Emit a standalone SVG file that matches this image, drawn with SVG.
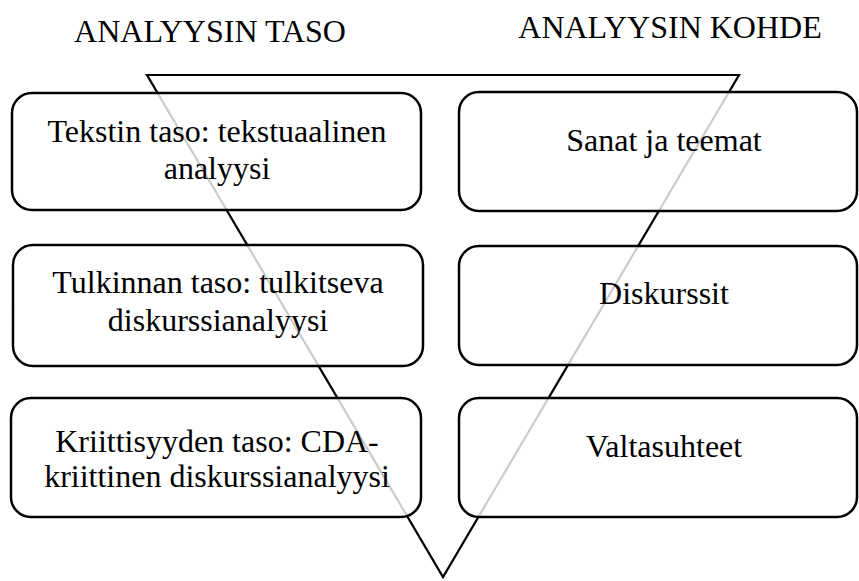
<svg xmlns="http://www.w3.org/2000/svg" width="859" height="581" viewBox="0 0 859 581">
<style>
  text { font-family: 'Liberation Serif', 'Times New Roman', Times, 'DejaVu Serif', serif; font-size: 32px; fill: #000; text-anchor: middle; }
  .box { fill: #ffffff; fill-opacity: 0.8; stroke: #000; stroke-width: 2.5; }
  .tri { fill: none; stroke: #000; stroke-width: 2.2; stroke-linejoin: miter; }
</style>
<rect width="859" height="581" fill="#ffffff"/>
<g id="headers" font-family="Liberation Serif, serif">
  <text x="210" y="42">ANALYYSIN TASO</text>
  <text x="670" y="38">ANALYYSIN KOHDE</text>
</g>
<g id="connectors">
  <polygon class="tri" points="147,75 739,75 443,577"/>
</g>
<g id="taso1">
  <rect class="box" x="12" y="93" width="409" height="117" rx="20"/>
  <text x="217" y="142">Tekstin taso: tekstuaalinen</text>
  <text x="217" y="179">analyysi</text>
</g>
<g id="kohde1">
  <rect class="box" x="459" y="92" width="398" height="119" rx="20"/>
  <text x="664" y="151">Sanat ja teemat</text>
</g>
<g id="taso2">
  <rect class="box" x="13" y="245" width="410" height="121" rx="20"/>
  <text x="218" y="293">Tulkinnan taso: tulkitseva</text>
  <text x="218" y="331">diskurssianalyysi</text>
</g>
<g id="kohde2">
  <rect class="box" x="459" y="246" width="398" height="119" rx="20"/>
  <text x="664" y="304">Diskurssit</text>
</g>
<g id="taso3">
  <rect class="box" x="11" y="398" width="410" height="119" rx="20"/>
  <text x="217" y="452">Kriittisyyden taso: CDA-</text>
  <text x="217" y="487">kriittinen diskurssianalyysi</text>
</g>
<g id="kohde3">
  <rect class="box" x="459" y="398" width="398" height="119" rx="20"/>
  <text x="664" y="457">Valtasuhteet</text>
</g>
</svg>
